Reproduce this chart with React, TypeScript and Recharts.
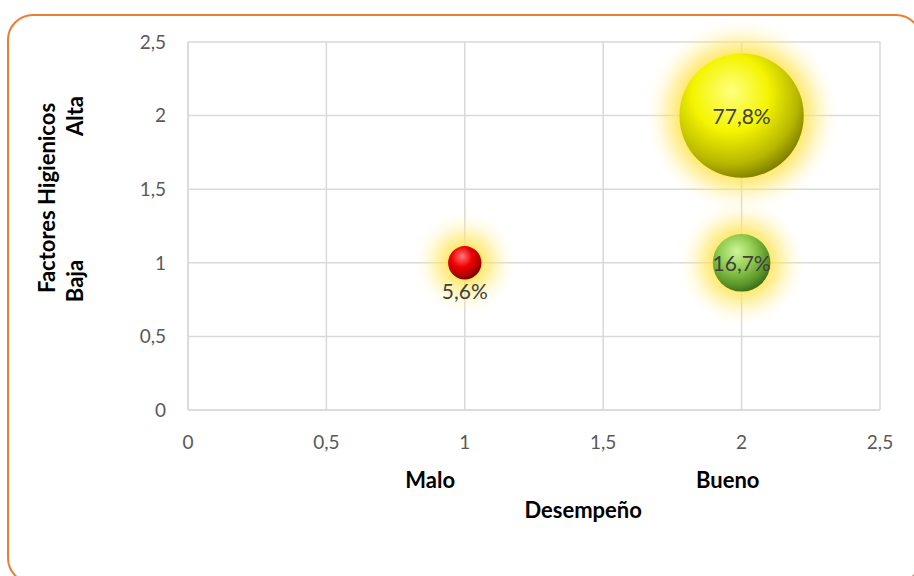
import React from 'react'
import { ScatterChart, Scatter, XAxis, YAxis, ZAxis, CartesianGrid } from 'recharts'

// Desempeño (x), factores higiénicos (y) y porcentaje de cada grupo (tamaño de burbuja)
const desempeno = [1, 2, 2]
const factores = [1, 1, 2]
const porcentajes = [5.6, 16.7, 77.8]
const axisTicks = [0, 0.5, 1, 1.5, 2, 2.5]

// colores de cada esfera: [brillo, base, sombra, borde]
const palette = [
  ['#ff7a7a', '#f00000', '#b00000', '#6e0000'],
  ['#cdf59a', '#8fcb4e', '#5b962a', '#3b6b17'],
  ['#ffff80', '#f4f400', '#b8b800', '#7d7d00'],
]

const data = desempeno.map((x, i) => ({ x, y: factores[i], z: porcentajes[i] }))

const FONT = 'Lato, "Open Sans", sans-serif'
const GLOW = 34

const fmt = (v: number) => String(v).replace('.', ',')

const Bubble = (props: any) => {
  const { cx, cy, size, width, index, payload } = props
  const r = size ? Math.sqrt(size / Math.PI) : width / 2
  const R = r + GLOW
  const [hi, base, shade, edge] = palette[index % palette.length]
  const inner = r / R
  const at = (t: number) => inner + (1 - inner) * t
  const labelInside = r >= 25
  return (
    <g>
      <defs>
        <radialGradient id={`glow-${index}`} cx="50%" cy="50%" r="50%">
          <stop offset={0} stopColor="#ffe34d" stopOpacity={0.8} />
          <stop offset={inner} stopColor="#ffe34d" stopOpacity={0.8} />
          <stop offset={at(0.35)} stopColor="#ffe866" stopOpacity={0.5} />
          <stop offset={at(0.7)} stopColor="#fff099" stopOpacity={0.2} />
          <stop offset={1} stopColor="#fff6c0" stopOpacity={0} />
        </radialGradient>
        <radialGradient id={`sphere-${index}`} cx="40%" cy="35%" r="68%" fx="42%" fy="30%">
          <stop offset={0} stopColor={hi} />
          <stop offset={0.45} stopColor={base} />
          <stop offset={0.8} stopColor={shade} />
          <stop offset={1} stopColor={edge} />
        </radialGradient>
      </defs>
      <circle cx={cx} cy={cy} r={R} fill={`url(#glow-${index})`} />
      <circle cx={cx} cy={cy} r={r} fill={`url(#sphere-${index})`} />
      <text
        x={cx}
        y={labelInside ? cy : cy + r + 11}
        textAnchor="middle"
        dominantBaseline="central"
        fontFamily={FONT}
        fontSize={21}
        fill="#404040"
      >
        {fmt(payload.z)}%
      </text>
    </g>
  )
}

const titleStyle = { fontFamily: FONT, fontSize: 22, fontWeight: 700, fill: '#000' }

const XTitle = ({ viewBox }: any) => {
  const { x, y, width } = viewBox
  return (
    <g>
      <text x={x + width * 0.35} y={y + 78} textAnchor="middle" {...titleStyle}>Malo</text>
      <text x={x + width * 0.78} y={y + 78} textAnchor="middle" {...titleStyle}>Bueno</text>
      <text x={x + width * 0.571} y={y + 108} textAnchor="middle" {...titleStyle}>Desempeño</text>
    </g>
  )
}

const YTitle = ({ viewBox }: any) => {
  const { x, y } = viewBox
  const rot = (tx: number, ty: number) => `rotate(-90, ${tx}, ${ty})`
  return (
    <g>
      <text x={x - 73} y={y + 156} textAnchor="middle" transform={rot(x - 73, y + 156)} {...titleStyle}>
        Factores Higienicos
      </text>
      <text x={x - 45} y={y + 74} textAnchor="middle" transform={rot(x - 45, y + 74)} {...titleStyle}>
        Alta
      </text>
      <text x={x - 45} y={y + 239} textAnchor="middle" transform={rot(x - 45, y + 239)} {...titleStyle}>
        Baja
      </text>
    </g>
  )
}

export default function App() {
  const tickStyle = { fontFamily: FONT, fontSize: 19, fill: '#595959' }
  return (
    <div style={{ position: 'absolute', left: 0, top: 0, width: 914, height: 576, background: '#fff', overflow: 'hidden' }}>
      <div
        style={{
          position: 'absolute',
          left: 7,
          top: 14,
          width: 915,
          height: 570,
          border: '2px solid #ED7D31',
          borderRadius: 26,
          boxSizing: 'border-box',
        }}
      />
      <ScatterChart
        width={914}
        height={576}
        margin={{ top: 42, right: 34, left: 128, bottom: 136 }}
        style={{ position: 'absolute', left: 0, top: 0 }}
      >
        <CartesianGrid stroke="#d9d9d9" strokeWidth={1.5} />
        <XAxis
          type="number"
          dataKey="x"
          domain={[0, 2.5]}
          ticks={axisTicks}
          tickFormatter={fmt}
          height={30}
          tickSize={0}
          tickMargin={26}
          axisLine={{ stroke: '#d9d9d9', strokeWidth: 1.5 }}
          tick={tickStyle}
          label={<XTitle />}
        />
        <YAxis
          type="number"
          dataKey="y"
          domain={[0, 2.5]}
          ticks={axisTicks}
          tickFormatter={fmt}
          width={60}
          tickSize={0}
          tickMargin={22}
          axisLine={{ stroke: '#d9d9d9', strokeWidth: 1.5 }}
          tick={tickStyle}
          label={<YTitle />}
        />
        <ZAxis type="number" dataKey="z" domain={[0, 100]} range={[0, 15600]} />
        <Scatter data={data} shape={<Bubble />} isAnimationActive={false} />
      </ScatterChart>
    </div>
  )
}
